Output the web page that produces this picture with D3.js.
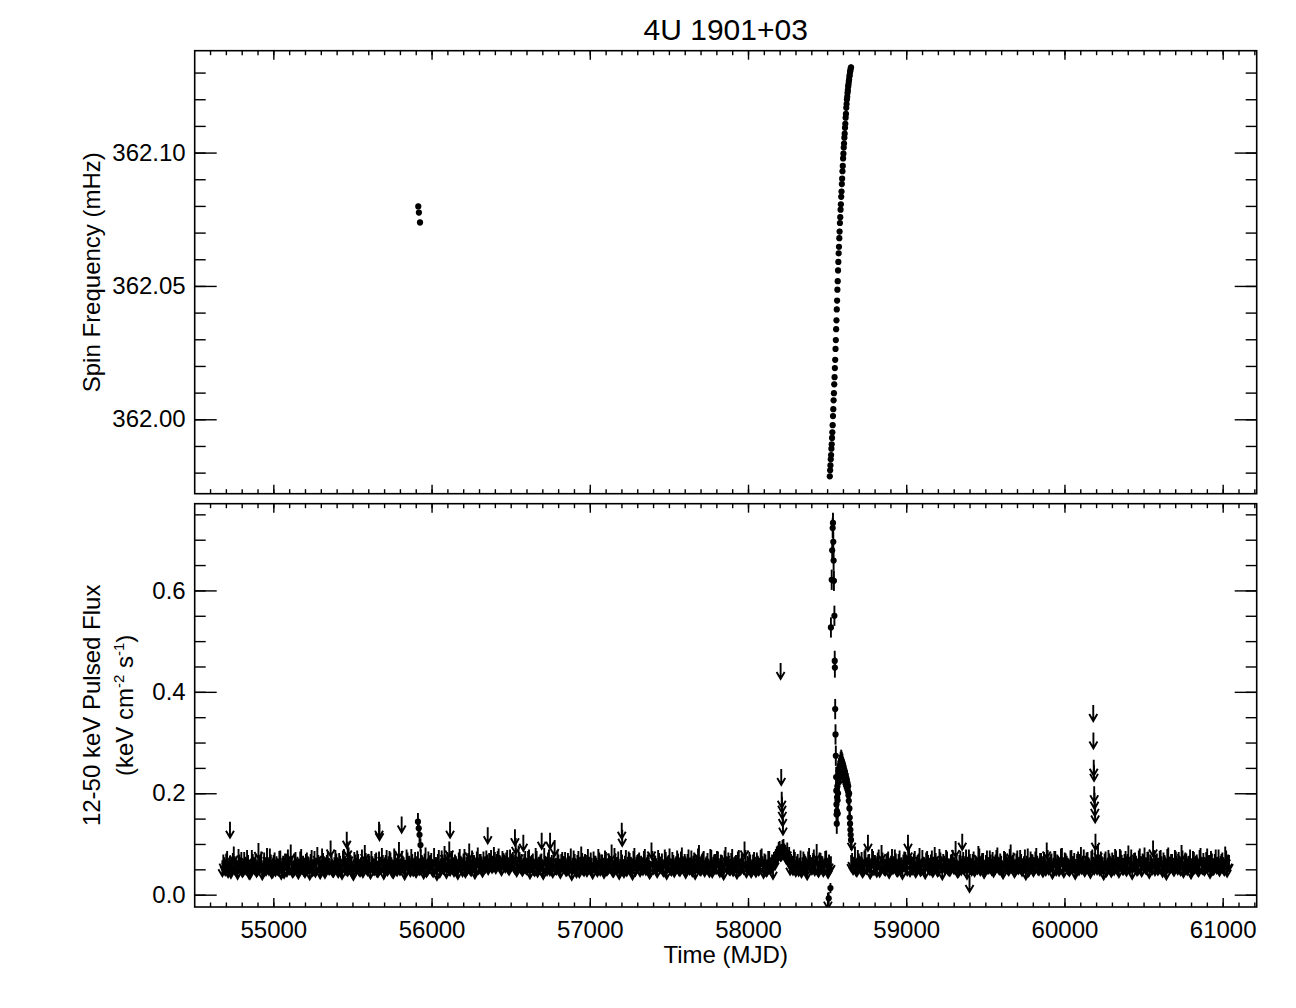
<!DOCTYPE html>
<html>
<head>
<meta charset="utf-8">
<script src="https://cdn.jsdelivr.net/npm/d3@7"></script>
<style>
  body { margin: 0; background: #fff; }
  text { font-family: "Liberation Sans", Arial, Helvetica, sans-serif; fill: #000; }
</style>
</head>
<body>
<div id="chart"></div>
<script>
// ---- spin frequency (mHz) vs MJD ----
var freqMjd = [55916, 55920, 55927,
  58517, 58519, 58521, 58523, 58525, 58527, 58529, 58531, 58533, 58535, 58537, 58539, 58541, 58543, 58545, 58547, 58549,
  58551, 58553, 58555, 58557, 58559, 58561, 58563, 58565, 58567, 58569, 58571, 58573, 58575, 58577, 58579, 58581, 58583,
  58585, 58587, 58589, 58591, 58593, 58595, 58597, 58599, 58601, 58603, 58605, 58607, 58609, 58611, 58613, 58615, 58617,
  58619, 58621, 58623, 58625, 58627, 58629, 58631, 58633, 58635, 58637, 58639, 58641, 58643, 58645, 58647, 58649, 58651];
var freqVal = [362.0798, 362.0775, 362.0738,
  361.9786, 361.9809, 361.9827, 361.9850, 361.9866, 361.9890, 361.9906, 361.9930, 361.9951, 361.9978, 362.0012, 362.0038,
  362.0071, 362.0098, 362.0131, 362.0158, 362.0192, 362.0223, 362.0264, 362.0297, 362.0338, 362.0371, 362.0412, 362.0445,
  362.0486, 362.0518, 362.0558, 362.0590, 362.0622, 362.0647, 362.0679, 362.0704, 362.0736, 362.0758, 362.0786, 362.0806,
  362.0834, 362.0854, 362.0882, 362.0902, 362.0930, 362.0950, 362.0978, 362.0996, 362.1019, 362.1034, 362.1056, 362.1071,
  362.1093, 362.1108, 362.1131, 362.1145, 362.1168, 362.1182, 362.1199, 362.1209, 362.1223, 362.1233, 362.1247, 362.1255,
  362.1266, 362.1274, 362.1285, 362.1292, 362.1303, 362.1307, 362.1315, 362.1320];
var freqErr = 0.0010;

// ---- pulsed flux: quiescent upper limits (x 0.001) ----
// two interleaved 12-day grids: bandA/bandB start on day 0, bandA2/bandB2 six days later
var bandAStart = 54678, bandBStart = 58652, bandStep = 12, bandOffset = 6;
var bandA = [
  68, 74, 81, 66, 77, 72, 95, 70, 63, 79, 84, 69, 75, 88, 64, 71, 80, 73, 67, 102,
  76, 62, 83, 70, 74, 91, 65, 78, 69, 72, 86, 63, 77, 81, 68, 74, 99, 66, 79, 71,
  64, 85, 73, 69, 80, 76, 62, 88, 71, 67, 94, 75, 70, 82, 65, 78, 73, 107, 68, 74,
  81, 66, 77, 63, 90, 72, 69, 84, 75, 61, 79, 87, 70, 74, 66, 98, 73, 80, 64, 76,
  71, 83, 67, 75, 92, 63, 78, 70, 86, 74, 65, 81, 69, 104, 72, 77, 62, 89, 76, 68,
  80, 73, 66, 85, 71, 78, 64, 93, 70, 75, 82, 67, 74, 61, 88, 72, 79, 96, 65, 77,
  70, 84, 68, 76, 63, 90, 74, 81, 66, 72, 101, 69, 78, 64, 85, 73, 80, 67, 75, 87,
  72, 80, 75, 94, 74, 86, 78, 70, 82, 76, 88, 71, 79, 84, 74, 68, 97, 75, 69, 80,
  73, 86, 64, 78, 71, 92, 67, 75, 81, 63, 77, 70, 89, 74, 66, 108, 72, 79, 65, 84,
  76, 69, 82, 74, 61, 87, 72, 78, 66, 95, 71, 80, 68, 75, 83, 64, 77, 73, 90, 70,
  79, 65, 84, 72, 76, 99, 67, 81, 74, 63, 88, 70, 77, 69, 85, 73, 62, 92, 75, 80,
  68, 74, 86, 71, 79, 64, 103, 73, 77, 66, 82, 75, 70, 89, 63, 78, 72, 84, 67, 76,
  81, 69, 93, 74, 65, 80, 72, 87, 77, 63, 75, 98, 70, 83, 68, 76, 71, 90, 66, 79,
  73, 85, 67, 78, 62, 94, 75, 71, 82, 69, 76, 64, 88, 72, 80, 105, 66, 74, 79, 70,
  84, 67, 77, 73, 91, 65, 79, 70, 86, 74, 63, 81, 95, 104, 99, 108, 101, 93, 88, 71,
  75, 89, 68, 80, 73, 66, 85, 77, 62, 92, 74, 79, 70, 100, 67, 82, 76, 72, 87, 65,
  74];
var bandA2 = [
  79, 70, 86, 73, 65, 82, 76, 69, 90, 74, 67, 84, 72, 78, 63, 88, 75, 81, 70, 77,
  85, 68, 74, 92, 71, 79, 66, 83, 76, 70, 87, 73, 65, 80, 89, 72, 77, 68, 84, 75,
  71, 90, 77, 66, 83, 74, 80, 69, 86, 73, 78, 64, 91, 76, 70, 85, 72, 79, 67, 88,
  74, 82, 69, 87, 76, 71, 93, 78, 65, 84, 73, 80, 68, 89, 75, 82, 70, 77, 86, 72,
  80, 67, 85, 74, 78, 70, 88, 76, 83, 66, 91, 73, 79, 71, 86, 74, 68, 83, 77, 90,
  69, 84, 76, 72, 89, 75, 81, 67, 85, 78, 70, 92, 74, 80, 66, 87, 73, 79, 84, 71,
  86, 74, 79, 70, 83, 77, 68, 90, 75, 82, 72, 87, 78, 71, 93, 80, 74, 85, 76, 79,
  82, 88, 77, 84, 80, 91, 76, 86, 79, 83, 74, 89, 81, 77, 92, 75, 84, 80, 73, 86,
  72, 89, 76, 81, 69, 86, 74, 79, 67, 92, 75, 83, 70, 78, 85, 73, 88, 71, 80, 76,
  84, 70, 77, 91, 73, 80, 66, 86, 75, 82, 69, 78, 90, 74, 71, 85, 77, 68, 83, 79,
  73, 87, 70, 81, 76, 68, 92, 74, 85, 71, 79, 66, 88, 75, 82, 72, 86, 69, 78, 83,
  77, 71, 90, 74, 83, 67, 86, 79, 72, 88, 75, 81, 68, 84, 76, 91, 70, 78, 73, 87,
  70, 85, 76, 80, 72, 89, 74, 68, 83, 77, 91, 71, 79, 86, 73, 82, 67, 88, 75, 80,
  86, 72, 79, 69, 87, 76, 83, 71, 90, 74, 78, 85, 70, 81, 73, 88, 77, 84, 66, 79,
  75, 83, 70, 88, 76, 81, 68, 86, 73, 79, 84, 90, 97, 106, 100, 110, 98, 103, 94, 80,
  71, 84, 76, 69, 87, 74, 80, 67, 85, 78, 72, 89, 75, 70, 83, 77, 68, 86, 73, 79,
  76];
var bandB = [
  78, 72, 95, 68, 81, 74, 66, 87, 73, 79, 64, 90, 71, 76, 83, 67, 98, 75, 70, 82,
  65, 77, 73, 89, 69, 80, 72, 63, 85, 76, 101, 68, 74, 81, 66, 78, 92, 71, 75, 64,
  86, 73, 79, 67, 94, 75, 70, 83, 62, 77, 88, 72, 69, 80, 74, 106, 66, 78, 71, 84,
  76, 63, 89, 73, 80, 68, 75, 96, 70, 82, 65, 78, 74, 87, 71, 67, 79, 93, 72, 77,
  64, 84, 75, 70, 99, 78, 66, 81, 73, 88, 69, 76, 62, 91, 74, 80, 68, 85, 77, 71,
  82, 67, 75, 103, 72, 79, 64, 86, 70, 77, 74, 92, 66, 81, 73, 69, 88, 76, 63, 80,
  71, 94, 77, 68, 83, 74, 65, 89, 72, 79, 100, 70, 76, 62, 85, 73, 81, 67, 78, 90,
  74, 66, 87, 72, 80, 69, 97, 75, 63, 82, 77, 71, 91, 68, 79, 74, 84, 65, 76, 107,
  70, 81, 73, 88, 67, 78, 62, 93, 75, 80, 69, 85, 72, 76, 98, 66, 83, 71, 77, 64,
  86, 74, 79, 68, 92, 73, 70, 84, 77, 65, 81, 72, 89, 75, 69, 80, 74, 95, 67, 78];
var bandB2 = [
  82, 75, 70, 88, 77, 84, 69, 91, 74, 80, 72, 86, 78, 67, 89, 76, 83, 71, 79, 85,
  73, 90, 76, 81, 68, 87, 74, 79, 84, 70, 92, 77, 72, 86, 75, 81, 69, 88, 74, 83,
  78, 71, 87, 75, 82, 68, 90, 76, 80, 73, 85, 70, 79, 88, 74, 81, 67, 86, 77, 72,
  89, 75, 80, 70, 85, 77, 73, 91, 76, 82, 69, 87, 74, 79, 84, 72, 88, 75, 81, 68,
  86, 78, 73, 90, 76, 83, 70, 87, 75, 80, 72, 89, 77, 68, 85, 79, 74, 92, 71, 82,
  76, 84, 70, 88, 75, 81, 73, 86, 79, 69, 91, 74, 83, 77, 71, 87, 76, 82, 70, 85,
  80, 73, 89, 77, 84, 70, 86, 75, 91, 72, 79, 85, 74, 81, 68, 88, 76, 83, 71, 87,
  75, 90, 78, 72, 86, 80, 74, 89, 77, 83, 70, 87, 76, 81, 93, 73, 85, 79, 72, 88,
  79, 71, 86, 76, 83, 69, 90, 75, 80, 73, 88, 77, 84, 70, 87, 74, 81, 76, 89, 72,
  84, 77, 70, 88, 75, 82, 73, 91, 78, 86, 71, 80, 74, 89, 76, 83, 70, 87, 79];

// ---- isolated upper limits ----
var ulMjd = [54726, 55464, 55470, 55668, 55671, 55811, 56112, 56117, 56355, 56527, 56532, 56580, 56696, 56749,
  57202, 57205, 58206, 58210, 58213, 58215, 58217, 58219, 58221, 58505, 58655, 58758, 59011, 59354, 59400,
  60182, 60183, 60185, 60187, 60188, 60190, 60192, 60194, 60196];
var ulVal = [0.144, 0.124, 0.105, 0.144, 0.139, 0.154, 0.105, 0.144, 0.133, 0.129, 0.112, 0.118, 0.122, 0.122,
  0.142, 0.128, 0.457, 0.248, 0.203, 0.193, 0.181, 0.167, 0.150, 0.004, 0.120, 0.118, 0.118, 0.120, 0.037,
  0.374, 0.320, 0.266, 0.256, 0.214, 0.201, 0.187, 0.174, 0.120];

// ---- detections with 1-sigma errors ----
var detMjd = [55914, 55919, 55924, 55930, 58510, 58521,
  58524, 58529, 58532, 58535, 58537, 58539, 58541, 58543, 58546, 58548, 58549, 58551, 58553, 58555,
  58557, 58558, 58559, 58560, 58561, 58562, 58563, 58565, 58566, 58567, 58569, 58571, 58573, 58575, 58577,
  58579, 58581, 58583, 58585, 58587, 58589, 58591, 58593, 58595, 58597, 58599, 58601, 58603, 58605, 58607,
  58609, 58611, 58613, 58615, 58617, 58619, 58621, 58623, 58625, 58627, 58629, 58631, 58633, 58635, 58637,
  58639, 58641, 58643, 58645, 58647, 58649, 58651];
var detVal = [0.144, 0.131, 0.118, 0.098, -0.007, 0.013,
  0.527, 0.621, 0.679, 0.723, 0.733, 0.696, 0.659, 0.619, 0.550, 0.461, 0.448, 0.366, 0.316, 0.274,
  0.232, 0.205, 0.178, 0.158, 0.140, 0.165, 0.192, 0.214, 0.186, 0.160, 0.200, 0.228, 0.244, 0.222, 0.250,
  0.238, 0.256, 0.245, 0.262, 0.250, 0.266, 0.255, 0.262, 0.246, 0.258, 0.240, 0.252, 0.236, 0.248, 0.232,
  0.244, 0.228, 0.240, 0.225, 0.236, 0.222, 0.230, 0.218, 0.226, 0.212, 0.220, 0.205, 0.214, 0.196, 0.185,
  0.200, 0.170, 0.152, 0.140, 0.128, 0.118, 0.108];
var detErr = [0.017, 0.015, 0.014, 0.013, 0.012, 0.010,
  0.020, 0.020, 0.020, 0.020, 0.020, 0.020, 0.020, 0.020, 0.020, 0.020, 0.020, 0.020, 0.020, 0.020,
  0.020, 0.020, 0.020, 0.020, 0.020, 0.020, 0.020, 0.020, 0.020, 0.020, 0.020, 0.020, 0.020, 0.020, 0.020,
  0.020, 0.020, 0.020, 0.020, 0.020, 0.020, 0.020, 0.020, 0.020, 0.020, 0.020, 0.020, 0.020, 0.020, 0.020,
  0.020, 0.020, 0.020, 0.020, 0.020, 0.020, 0.020, 0.020, 0.020, 0.020, 0.020, 0.020, 0.020, 0.020, 0.020,
  0.020, 0.020, 0.020, 0.020, 0.020, 0.020, 0.020];

// ---- tick labels ----
var mjdTicks = [55000, 56000, 57000, 58000, 59000, 60000, 61000];
var freqTicks = [362.00, 362.05, 362.10];
var fluxTicks = [0.0, 0.2, 0.4, 0.6];

// ---------------------------------------------------------------
var W = 1296, H = 1008;
var left = 194.7, right = 1256.7;
var p1 = { y0: 50.7, y1: 493.7 }, p2 = { y0: 503.7, y1: 907 };

var svg = d3.select("#chart").append("svg")
    .attr("width", W).attr("height", H);

var x = d3.scaleLinear().domain([54503, 61215]).range([left, right]);
var yF = d3.scaleLinear().domain([361.9721, 362.1382]).range([p1.y1, p1.y0]);
var yP = d3.scaleLinear().domain([-0.0243, 0.771]).range([p2.y1, p2.y0]);

var defs = svg.append("defs");
defs.append("clipPath").attr("id", "clip1").append("rect")
    .attr("x", left).attr("y", p1.y0).attr("width", right - left).attr("height", p1.y1 - p1.y0);
defs.append("clipPath").attr("id", "clip2").append("rect")
    .attr("x", left).attr("y", p2.y0).attr("width", right - left).attr("height", p2.y1 - p2.y0);

function styleAxis(g) {
    g.select(".domain").remove();
    g.selectAll(".tick line").attr("stroke", "#000").attr("stroke-width", 1.4);
    g.selectAll(".tick text").style("font-family", '"Liberation Sans", Arial, sans-serif')
        .style("font-size", "24px").attr("fill", "#000");
}

function panelAxes(yScale, yTicks, yFmt, yMinorCount, p, showX) {
    var g = svg.append("g");
    // y axes, left and right, ticks pointing in
    g.append("g").attr("transform", "translate(" + left + ",0)")
        .call(d3.axisLeft(yScale).tickValues(yTicks).tickSize(-22).tickPadding(9).tickFormat(d3.format(yFmt)))
        .call(styleAxis);
    g.append("g").attr("transform", "translate(" + left + ",0)")
        .call(d3.axisLeft(yScale).ticks(yMinorCount).tickSize(-11).tickFormat(""))
        .call(styleAxis);
    g.append("g").attr("transform", "translate(" + right + ",0)")
        .call(d3.axisRight(yScale).tickValues(yTicks).tickSize(-22).tickFormat(""))
        .call(styleAxis);
    g.append("g").attr("transform", "translate(" + right + ",0)")
        .call(d3.axisRight(yScale).ticks(yMinorCount).tickSize(-11).tickFormat(""))
        .call(styleAxis);
    // x axes, top and bottom
    g.append("g").attr("transform", "translate(0," + p.y1 + ")")
        .call(d3.axisBottom(x).tickValues(mjdTicks).tickSize(-9).tickPadding(14)
            .tickFormat(showX ? d3.format("d") : ""))
        .call(styleAxis);
    g.append("g").attr("transform", "translate(0," + p.y1 + ")")
        .call(d3.axisBottom(x).ticks(67).tickSize(-4.5).tickFormat(""))
        .call(styleAxis);
    g.append("g").attr("transform", "translate(0," + p.y0 + ")")
        .call(d3.axisTop(x).tickValues(mjdTicks).tickSize(-9).tickFormat(""))
        .call(styleAxis);
    g.append("g").attr("transform", "translate(0," + p.y0 + ")")
        .call(d3.axisTop(x).ticks(67).tickSize(-4.5).tickFormat(""))
        .call(styleAxis);
    g.append("rect").attr("x", left).attr("y", p.y0)
        .attr("width", right - left).attr("height", p.y1 - p.y0)
        .attr("fill", "none").attr("stroke", "#000").attr("stroke-width", 1.6);
}

// ---- top panel: spin frequency ----
var topG = svg.append("g").attr("clip-path", "url(#clip1)");
var freqData = freqMjd.map(function(m, i) { return [m, freqVal[i]]; });
topG.selectAll("line.err").data(freqData).enter().append("line")
    .attr("x1", function(d) { return x(d[0]); }).attr("x2", function(d) { return x(d[0]); })
    .attr("y1", function(d) { return yF(d[1] - freqErr); })
    .attr("y2", function(d) { return yF(d[1] + freqErr); })
    .attr("stroke", "#000").attr("stroke-width", 1.5);
topG.selectAll("circle").data(freqData).enter().append("circle")
    .attr("cx", function(d) { return x(d[0]); })
    .attr("cy", function(d) { return yF(d[1]); })
    .attr("r", 3.1).attr("fill", "#000");

// ---- bottom panel: pulsed flux ----
var botG = svg.append("g").attr("clip-path", "url(#clip2)");

function arrowPath(d) {
    var X = x(d[0]), Y = yP(d[1]);
    return "M" + X + "," + Y + "V" + (Y + 16) +
        "M" + (X - 4) + "," + (Y + 9) + "L" + X + "," + (Y + 16) + "L" + (X + 4) + "," + (Y + 9);
}

var ulData = [];
bandA.forEach(function(v, i) { ulData.push([bandAStart + i * bandStep, v / 1000]); });
bandA2.forEach(function(v, i) { ulData.push([bandAStart + bandOffset + i * bandStep, v / 1000]); });
bandB.forEach(function(v, i) { ulData.push([bandBStart + i * bandStep, v / 1000]); });
bandB2.forEach(function(v, i) { ulData.push([bandBStart + bandOffset + i * bandStep, v / 1000]); });
ulMjd.forEach(function(m, i) { ulData.push([m, ulVal[i]]); });

botG.selectAll("path.ul").data(ulData).enter().append("path")
    .attr("class", "ul")
    .attr("d", arrowPath)
    .attr("fill", "none").attr("stroke", "#000").attr("stroke-width", 1.9);

var detData = detMjd.map(function(m, i) { return [m, detVal[i], detErr[i]]; });
botG.selectAll("line.derr").data(detData).enter().append("line")
    .attr("class", "derr")
    .attr("x1", function(d) { return x(d[0]); }).attr("x2", function(d) { return x(d[0]); })
    .attr("y1", function(d) { return yP(d[1] - d[2]); })
    .attr("y2", function(d) { return yP(d[1] + d[2]); })
    .attr("stroke", "#000").attr("stroke-width", 1.9);
botG.selectAll("circle").data(detData).enter().append("circle")
    .attr("cx", function(d) { return x(d[0]); })
    .attr("cy", function(d) { return yP(d[1]); })
    .attr("r", 3.1).attr("fill", "#000");

panelAxes(yF, freqTicks, ".2f", 17, p1, false);
panelAxes(yP, fluxTicks, ".1f", 16, p2, true);

// ---- titles and labels ----
svg.append("text").attr("x", (left + right) / 2).attr("y", 40)
    .attr("text-anchor", "middle").style("font-size", "30px").text("4U 1901+03");

svg.append("text").attr("x", (left + right) / 2).attr("y", 963)
    .attr("text-anchor", "middle").style("font-size", "24px").text("Time (MJD)");

svg.append("text")
    .attr("transform", "translate(100," + (p1.y0 + p1.y1) / 2 + ") rotate(-90)")
    .attr("text-anchor", "middle").style("font-size", "24px").text("Spin Frequency (mHz)");

svg.append("text")
    .attr("transform", "translate(100," + (p2.y0 + p2.y1) / 2 + ") rotate(-90)")
    .attr("text-anchor", "middle").style("font-size", "24px").text("12-50 keV Pulsed Flux");

var unit = svg.append("text")
    .attr("transform", "translate(133," + (p2.y0 + p2.y1) / 2 + ") rotate(-90)")
    .attr("text-anchor", "middle").style("font-size", "24px");
unit.append("tspan").text("(keV cm");
unit.append("tspan").attr("dy", -9).style("font-size", "15px").text("-2");
unit.append("tspan").attr("dy", 9).text(" s");
unit.append("tspan").attr("dy", -9).style("font-size", "15px").text("-1");
unit.append("tspan").attr("dy", 9).text(")");
</script>
</body>
</html>
